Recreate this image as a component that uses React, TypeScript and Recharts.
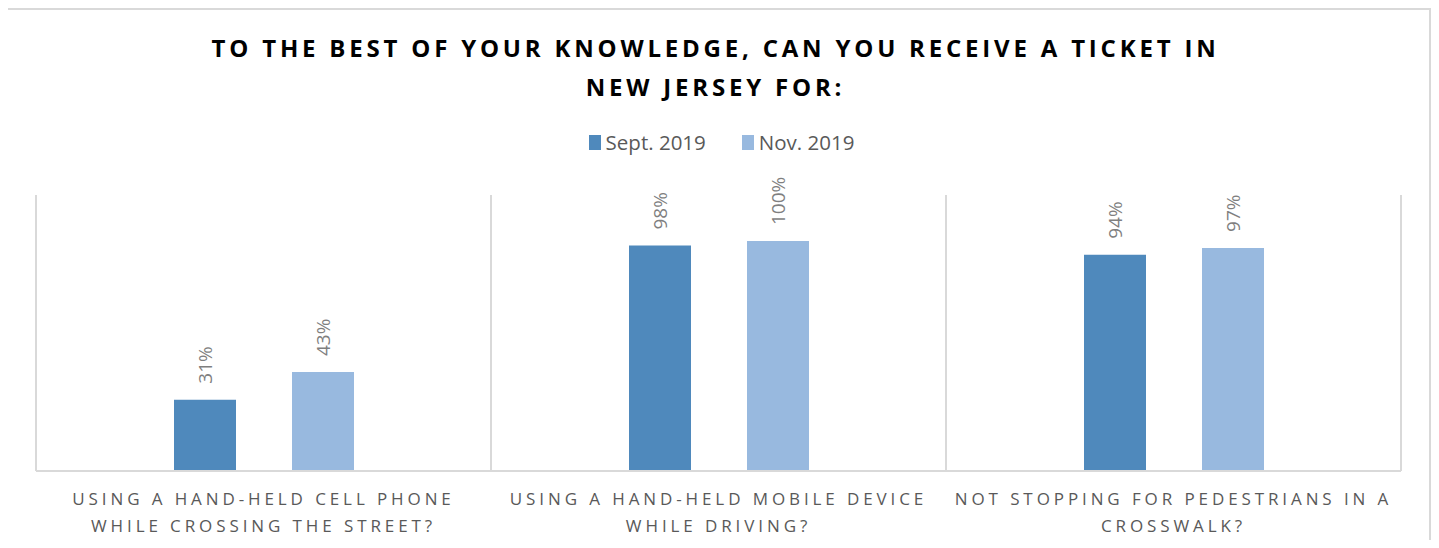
import React from "react";
import { BarChart, Bar, XAxis, YAxis, CartesianGrid, LabelList } from "recharts";

const categories = [
  "USING A HAND-HELD CELL PHONE WHILE CROSSING THE STREET?",
  "USING A HAND-HELD MOBILE DEVICE WHILE DRIVING?",
  "NOT STOPPING FOR PEDESTRIANS IN A CROSSWALK?",
];
const tickLines: Record<string, string[]> = {
  [categories[0]]: ["USING A HAND-HELD CELL PHONE", "WHILE CROSSING THE STREET?"],
  [categories[1]]: ["USING A HAND-HELD MOBILE DEVICE", "WHILE DRIVING?"],
  [categories[2]]: ["NOT STOPPING FOR PEDESTRIANS IN A", "CROSSWALK?"],
};
const sept2019 = [0.31, 0.98, 0.94];
const nov2019 = [0.43, 1.0, 0.97];
const seriesNames = ["Sept. 2019", "Nov. 2019"];
const titleLines = ["TO THE BEST OF YOUR KNOWLEDGE, CAN YOU RECEIVE A TICKET IN", "NEW JERSEY FOR:"];

const colors = ["#4F89BC", "#98B9DF"];
const FONT = "'Open Sans', 'Noto Sans', sans-serif";

const data = categories.map((c, i) => ({ cat: c, sept: sept2019[i], nov: nov2019[i] }));

const CatTick = (props: any) => {
  const { x, y, payload } = props;
  const lines = tickLines[payload.value] || [payload.value];
  return (
    <g>
      {lines.map((l, i) => (
        <text
          key={i}
          x={x}
          y={y + 26 + i * 27}
          textAnchor="middle"
          fill="#595959"
          fontSize={17}
          fontFamily={FONT}
          letterSpacing={3.9}
        >
          {l}
        </text>
      ))}
    </g>
  );
};

const RotLabel = (props: any) => {
  const { x, y, width, value } = props;
  const cx = x + width / 2;
  const cy = y - 16;
  return (
    <text
      x={cx}
      y={cy}
      transform={`rotate(-90, ${cx}, ${cy})`}
      textAnchor="start"
      dominantBaseline="central"
      fill="#7F7F7F"
      fontSize={19}
      fontFamily={FONT}
    >
      {`${Math.round(value * 100)}%`}
    </text>
  );
};

export default function App() {
  return (
    <div style={{ position: "relative", width: 1439, height: 548, margin: -8, overflow: "hidden", background: "#fff" }}>
      <div
        style={{
          position: "absolute",
          left: 6,
          top: 8,
          width: 1421,
          height: 600,
          border: "2px solid #D9D9D9",
          boxSizing: "content-box",
        }}
      />
      <div
        style={{
          position: "absolute",
          left: -4,
          top: 28,
          width: 1439,
          textAlign: "center",
          fontFamily: FONT,
          fontWeight: 700,
          fontSize: 24,
          letterSpacing: 3.8,
          color: "#000",
          lineHeight: "39px",
        }}
      >
        {titleLines.map((t) => (
          <div key={t}>{t}</div>
        ))}
      </div>
      <div
        style={{
          position: "absolute",
          left: 0,
          top: 128,
          width: 1439,
          display: "flex",
          justifyContent: "center",
          alignItems: "center",
          fontFamily: FONT,
          fontSize: 20.5,
          color: "#595959",
          paddingLeft: 4,
          boxSizing: "border-box",
        }}
      >
        {seriesNames.map((n, i) => (
          <div key={n} style={{ display: "flex", alignItems: "center", marginRight: i === 0 ? 36 : 0 }}>
            <div style={{ width: 12, height: 15, background: colors[i], marginRight: 5 }} />
            <span>{n}</span>
          </div>
        ))}
      </div>
      <div style={{ position: "absolute", left: 0, top: 0 }}>
        <BarChart
          width={1439}
          height={548}
          data={data}
          margin={{ top: 195, right: 38, left: 36, bottom: 7 }}
          barGap={56}
        >
          <CartesianGrid
            horizontal={false}
            stroke="#D9D9D9"
            strokeWidth={2}
            verticalCoordinatesGenerator={({ offset }: any) => [
              offset.left,
              offset.left + offset.width / 3,
              offset.left + (2 * offset.width) / 3,
              offset.left + offset.width,
            ]}
          />
          <XAxis
            dataKey="cat"
            height={70}
            tickLine={false}
            axisLine={{ stroke: "#D9D9D9", strokeWidth: 2 }}
            tick={<CatTick />}
            interval={0}
          />
          <YAxis hide domain={[0, 1.2]} />
          <Bar dataKey="sept" name={seriesNames[0]} fill={colors[0]} barSize={62} isAnimationActive={false}>
            <LabelList dataKey="sept" content={<RotLabel />} />
          </Bar>
          <Bar dataKey="nov" name={seriesNames[1]} fill={colors[1]} barSize={62} isAnimationActive={false}>
            <LabelList dataKey="nov" content={<RotLabel />} />
          </Bar>
        </BarChart>
      </div>
    </div>
  );
}
